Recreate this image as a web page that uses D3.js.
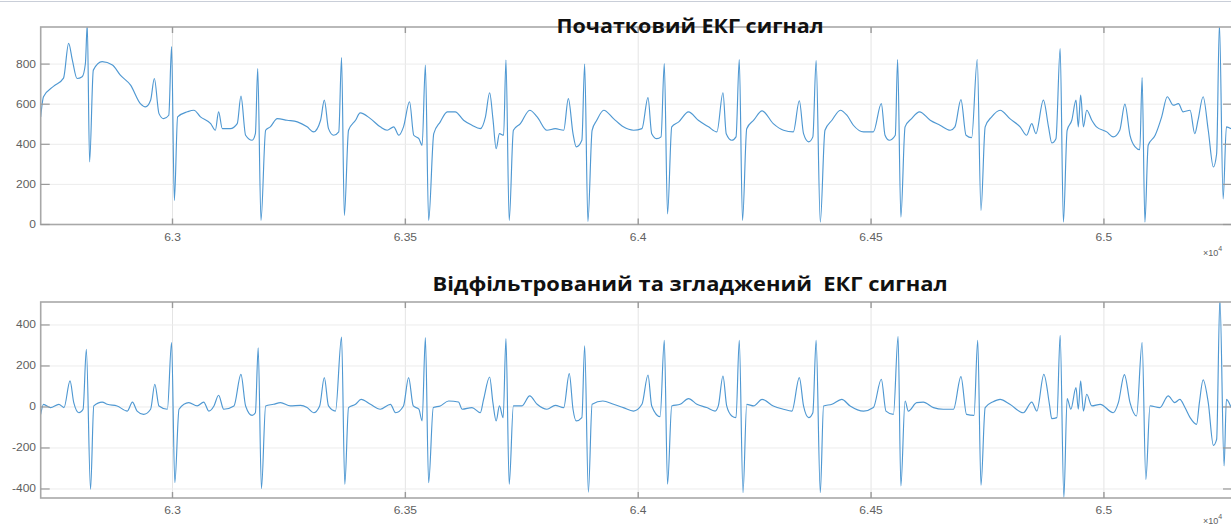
<!DOCTYPE html>
<html>
<head>
<meta charset="utf-8">
<script src="https://cdn.jsdelivr.net/npm/d3@7"></script>
<style>
  body { margin: 0; background: #fff; }
  svg { display: block; }
</style>
</head>
<body>
<svg id="chart" width="1231" height="528"></svg>
<script>
// x axis is in samples, labelled in units of 10^4
const xTicks = [63000, 63500, 64000, 64500, 65000];
const xTickLabels = ["6.3", "6.35", "6.4", "6.45", "6.5"];
const rawTicks = [0, 200, 400, 600, 800];
const filtTicks = [-400, -200, 0, 200, 400];
const titles = ["Початковий ЕКГ сигнал", "Відфільтрований та згладжений  ЕКГ сигнал"];

// raw ECG, [sample, value]
const rawTrace = [
  [62717,537],[62723,637],[62745,690],[62766,730],[62777,903],[62785,820],[62795,728],[62806,737],[62813,803],[62817,1000],[62822,312],
  [62830,770],[62849,812],[62871,795],[62888,745],[62910,695],[62931,603],[62942,587],[62953,620],[62961,728],[62971,553],[62981,528],[62992,545],
  [62998,887],[63004,120],[63011,537],[63032,562],[63046,570],[63060,537],[63082,503],[63092,470],[63099,562],[63107,478],[63124,478],[63139,503],
  [63147,640],[63157,445],[63171,420],[63178,453],[63183,778],[63190,20],[63200,470],[63210,487],[63225,528],[63246,520],[63268,512],[63289,487],
  [63303,462],[63318,520],[63326,620],[63335,478],[63346,445],[63357,462],[63363,833],[63369,45],[63378,470],[63393,520],[63403,557],[63425,528],
  [63446,487],[63461,470],[63475,487],[63486,445],[63496,487],[63509,612],[63518,445],[63529,428],[63536,395],[63543,795],[63550,20],[63561,453],
  [63575,512],[63590,562],[63607,562],[63625,520],[63643,495],[63661,478],[63672,537],[63681,657],[63688,528],[63695,378],[63702,453],[63711,445],
  [63716,820],[63723,20],[63732,470],[63747,503],[63767,570],[63783,537],[63804,470],[63822,478],[63840,470],[63850,628],[63860,453],[63867,387],
  [63879,420],[63885,800],[63892,15],[63901,470],[63911,520],[63926,570],[63947,528],[63968,487],[63990,470],[64008,478],[64021,633],[64029,453],
  [64040,428],[64049,437],[64056,803],[64063,53],[64072,487],[64087,512],[64108,562],[64129,520],[64151,487],[64169,462],[64182,657],[64189,453],
  [64201,420],[64210,437],[64217,823],[64224,20],[64233,478],[64248,520],[64266,567],[64290,503],[64312,470],[64333,462],[64346,617],[64355,453],
  [64366,412],[64375,437],[64382,817],[64391,12],[64401,470],[64416,520],[64434,570],[64448,545],[64462,495],[64484,462],[64505,462],[64522,603],
  [64530,445],[64539,420],[64552,445],[64557,823],[64564,37],[64573,487],[64587,528],[64604,562],[64627,520],[64648,495],[64670,470],[64680,487],
  [64693,623],[64704,445],[64716,433],[64728,823],[64736,70],[64745,487],[64759,537],[64777,570],[64798,528],[64820,487],[64834,445],[64845,503],
  [64854,453],[64870,620],[64881,487],[64888,407],[64897,428],[64906,878],[64913,12],[64921,470],[64931,520],[64940,620],[64945,487],[64950,645],
  [64956,487],[64963,570],[64974,520],[64984,487],[65006,462],[65020,437],[65034,470],[65045,600],[65056,445],[65067,387],[65077,373],[65082,733],
  [65088,12],[65095,395],[65110,445],[65124,537],[65136,637],[65149,595],[65160,603],[65170,562],[65185,570],[65195,453],[65202,520],[65213,637],
  [65224,470],[65235,287],[65242,353],[65248,1000],[65256,128],[65263,487],[65273,478]
];

// filtered and smoothed ECG, [sample, value]
const filtTrace = [
  [62717,-36],[62723,13],[62738,-3],[62756,13],[62767,-3],[62780,127],[62788,21],[62799,-28],[62808,-11],[62815,281],[62824,-402],[62831,5],
  [62849,24],[62860,13],[62881,5],[62903,-20],[62914,24],[62924,-20],[62938,-36],[62953,-11],[62962,111],[62971,5],[62989,-11],[62998,314],
  [63005,-369],[63014,-11],[63035,21],[63053,5],[63067,24],[63078,-20],[63089,5],[63099,57],[63110,-11],[63132,5],[63147,159],[63157,5],
  [63171,-41],[63178,-28],[63184,289],[63191,-398],[63200,5],[63217,13],[63232,21],[63253,5],[63275,8],[63289,-3],[63303,-28],[63316,5],
  [63326,143],[63335,5],[63350,-20],[63363,341],[63370,-377],[63378,-3],[63393,13],[63405,37],[63425,13],[63446,-11],[63468,13],[63479,-28],
  [63496,5],[63507,143],[63517,5],[63529,-11],[63536,-68],[63543,338],[63550,-369],[63560,-3],[63575,5],[63593,29],[63614,24],[63622,-11],
  [63643,-3],[63661,-28],[63668,37],[63681,146],[63688,21],[63695,-68],[63702,5],[63710,-52],[63716,333],[63723,-377],[63732,5],[63750,5],
  [63767,54],[63783,13],[63804,-11],[63822,8],[63840,-3],[63852,163],[63860,-11],[63867,-68],[63879,-52],[63885,298],[63893,-415],[63901,13],
  [63924,29],[63947,13],[63968,-3],[63990,-20],[64008,13],[64021,156],[64029,5],[64047,-47],[64056,325],[64063,-377],[64072,5],[64090,13],
  [64108,41],[64126,13],[64147,-3],[64165,-20],[64172,5],[64182,151],[64190,5],[64201,-44],[64210,-52],[64217,325],[64225,-418],[64233,13],
  [64248,5],[64266,37],[64290,5],[64312,-11],[64330,-20],[64346,143],[64355,5],[64366,-52],[64375,-28],[64382,325],[64391,-418],[64398,5],
  [64416,13],[64437,37],[64455,5],[64484,-20],[64505,-3],[64522,135],[64532,-20],[64548,-36],[64558,343],[64564,-385],[64573,29],[64580,-20],
  [64598,21],[64612,24],[64634,-3],[64655,-11],[64677,-11],[64693,148],[64705,-36],[64721,-41],[64729,325],[64736,-382],[64745,-3],[64761,24],
  [64777,37],[64798,13],[64827,-28],[64845,24],[64856,-20],[64871,159],[64883,13],[64888,-57],[64899,-52],[64906,350],[64914,-442],[64921,41],
  [64929,-11],[64940,94],[64945,-11],[64950,127],[64956,-20],[64963,62],[64974,5],[64992,13],[65020,-28],[65031,21],[65044,158],[65056,21],
  [65070,-44],[65082,314],[65090,-353],[65099,5],[65120,-3],[65138,54],[65152,21],[65163,37],[65174,-3],[65185,-52],[65199,-85],[65205,21],
  [65213,132],[65224,21],[65235,-187],[65242,-158],[65249,530],[65258,-288],[65263,37],[65273,-3]
];

const svg = d3.select('#chart');
const W = 1231;

// thin frame line at the very top of the image
svg.append('line')
  .attr('x1', 0).attr('x2', W).attr('y1', 1.5).attr('y2', 1.5)
  .attr('stroke', '#c9ced8').attr('stroke-width', 1.2);

const x = d3.scaleLinear().domain([62717, 65275]).range([40.7, 1232]);

function stretch(sel, k) {
  sel.each(function () {
    const len = this.getComputedTextLength();
    d3.select(this).attr('textLength', len * k).attr('lengthAdjust', 'spacingAndGlyphs');
  });
}

function drawPanel(cfg, idx) {
  const y = d3.scaleLinear().domain(cfg.domain).range([cfg.bottom, cfg.top]);
  const g = svg.append('g');
  const [x0, x1] = x.range();

  // grid
  g.selectAll('line.vg').data(xTicks).join('line')
    .attr('class', 'vg')
    .attr('x1', d => x(d)).attr('x2', d => x(d))
    .attr('y1', cfg.top).attr('y2', cfg.bottom)
    .attr('stroke', '#e4e4e4').attr('stroke-width', 1);
  g.selectAll('line.hg').data(cfg.ticks).join('line')
    .attr('class', 'hg')
    .attr('x1', x0).attr('x2', x1)
    .attr('y1', d => y(d)).attr('y2', d => y(d))
    .attr('stroke', '#ececec').attr('stroke-width', 1);

  // signal
  const clipId = 'clip' + idx;
  g.append('clipPath').attr('id', clipId)
    .append('rect').attr('x', x0).attr('y', cfg.top)
    .attr('width', x1 - x0).attr('height', cfg.bottom - cfg.top);

  const line = d3.line()
    .x(d => x(d[0])).y(d => y(d[1]))
    .curve(d3.curveMonotoneX);
  g.append('path')
    .datum(cfg.trace)
    .attr('clip-path', `url(#${clipId})`)
    .attr('d', line)
    .attr('fill', 'none')
    .attr('stroke', '#4f98d2')
    .attr('stroke-width', 1.15)
    .attr('stroke-linejoin', 'round');

  // box
  g.append('rect')
    .attr('x', x0).attr('y', cfg.top)
    .attr('width', x1 - x0).attr('height', cfg.bottom - cfg.top)
    .attr('fill', 'none').attr('stroke', '#a8a8a8').attr('stroke-width', 1.6);

  // inward tick marks
  const tl = 6;
  xTicks.forEach(t => {
    g.append('line').attr('x1', x(t)).attr('x2', x(t))
      .attr('y1', cfg.bottom).attr('y2', cfg.bottom - tl)
      .attr('stroke', '#999').attr('stroke-width', 1.4);
    g.append('line').attr('x1', x(t)).attr('x2', x(t))
      .attr('y1', cfg.top).attr('y2', cfg.top + tl)
      .attr('stroke', '#999').attr('stroke-width', 1.4);
  });
  cfg.ticks.forEach(t => {
    g.append('line').attr('x1', x0).attr('x2', x0 + tl + 3)
      .attr('y1', y(t)).attr('y2', y(t))
      .attr('stroke', '#999').attr('stroke-width', 1.2);
    g.append('line').attr('x1', x1).attr('x2', x1 - tl - 3)
      .attr('y1', y(t)).attr('y2', y(t))
      .attr('stroke', '#999').attr('stroke-width', 1.2);
  });

  // tick labels
  const yl = g.selectAll('text.yl').data(cfg.ticks).join('text')
    .attr('class', 'yl')
    .attr('x', 36).attr('y', d => y(d) + 3.5)
    .attr('text-anchor', 'end')
    .attr('font-family', 'Liberation Sans, Arial, sans-serif')
    .attr('font-size', 10).attr('fill', '#606060')
    .text(d => d);
  stretch(yl, 1.2);

  const xl = g.selectAll('text.xl').data(xTicks).join('text')
    .attr('class', 'xl')
    .attr('x', d => x(d)).attr('y', cfg.bottom + 16)
    .attr('text-anchor', 'middle')
    .attr('font-family', 'Liberation Sans, Arial, sans-serif')
    .attr('font-size', 10).attr('fill', '#606060')
    .text((d, i) => xTickLabels[i]);
  stretch(xl, 1.2);

  // exponent
  const ex = g.append('text')
    .attr('x', 1203).attr('y', cfg.expY)
    .attr('font-family', 'Liberation Sans, Arial, sans-serif')
    .attr('font-size', 9).attr('fill', '#606060');
  ex.append('tspan').text('×10');
  ex.append('tspan').attr('dy', -5).attr('font-size', 7).text('4');

  // title
  svg.append('text')
    .attr('x', 690).attr('y', cfg.titleY)
    .attr('text-anchor', 'middle')
    .attr('font-family', 'Open Sans, Noto Sans, sans-serif')
    .attr('font-weight', 700)
    .attr('font-size', 20)
    .attr('fill', '#111')
    .style('white-space', 'pre')
    .attr('textLength', cfg.titleW)
    .attr('lengthAdjust', 'spacingAndGlyphs')
    .text(titles[idx]);
}

drawPanel({ trace: rawTrace, domain: [0, 985], ticks: rawTicks, top: 27, bottom: 224.5, titleY: 33, titleW: 267, expY: 256 }, 0);
drawPanel({ trace: filtTrace, domain: [-444, 512], ticks: filtTicks, top: 302, bottom: 498, titleY: 291, titleW: 515, expY: 524 }, 1);
</script>
</body>
</html>
